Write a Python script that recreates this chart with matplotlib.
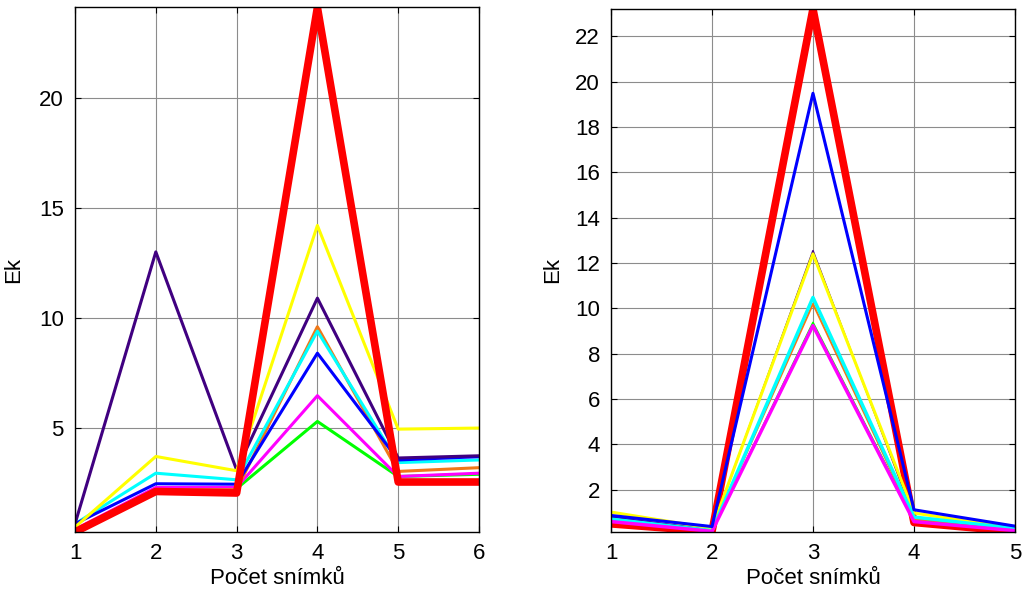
import matplotlib
matplotlib.use("Agg")
import matplotlib.pyplot as plt

plt.rcParams["font.family"] = ["Liberation Sans", "DejaVu Sans"]

# left panel: x = 1..6
x_left = [1, 2, 3, 4, 5, 6]
left_green = [0.35, 2.25, 2.25, 5.3, 2.8, 2.9]
left_magenta = [0.4, 2.3, 2.3, 6.47, 2.8, 2.95]
left_blue = [0.65, 2.47, 2.45, 8.4, 3.55, 3.7]
left_cyan = [0.65, 2.95, 2.65, 9.4, 3.43, 3.55]
left_orange = [0.35, 2.2, 2.2, 9.6, 3.03, 3.2]
left_purple = [0.65, 13.0, 3.1, 10.9, 3.64, 3.74]
left_yellow = [0.5, 3.71, 3.06, 14.2, 4.95, 5.0]
left_red = [0.28, 2.12, 2.05, 24.1, 2.55, 2.55]

# right panel: x = 1..5
x_right = [1, 2, 3, 4, 5]
right_red = [0.5, 0.16, 23.2, 0.56, 0.16]
right_blue = [0.87, 0.38, 19.48, 1.12, 0.4]
right_purple = [0.8, 0.25, 12.54, 0.8, 0.25]
right_yellow = [1.02, 0.3, 12.4, 0.98, 0.3]
right_orange = [0.7, 0.2, 10.2, 0.7, 0.35]
right_cyan = [0.71, 0.2, 10.48, 0.8, 0.3]
right_green = [0.6, 0.18, 9.38, 0.7, 0.2]
right_magenta = [0.6, 0.17, 9.24, 0.6, 0.2]

ORANGE = "#f07818"
PURPLE = "#400080"

fig = plt.figure(figsize=(10.25, 5.98), dpi=100)
ax1 = fig.add_axes([0.0732, 0.1104, 0.3941, 0.8771])
ax2 = fig.add_axes([0.5961, 0.1111, 0.3941, 0.8740])

# left
ax1.plot(x_left, left_green, color="#00ff00", lw=2.2)
ax1.plot(x_left, left_magenta, color="#ff00ff", lw=2.2)
ax1.plot(x_left, left_orange, color=ORANGE, lw=2.2)
ax1.plot(x_left, left_cyan, color="#00ffff", lw=2.2)
ax1.plot(x_left, left_blue, color="#0000ff", lw=2.2)
ax1.plot(x_left, left_purple, color=PURPLE, lw=2.2)
ax1.plot(x_left, left_yellow, color="#ffff00", lw=2.2)
ax1.plot(x_left, left_red, color="#ff0000", lw=5.5)
ax1.set_xlim(1, 6)
ax1.set_ylim(min(left_red), max(left_red))
ax1.set_xticks(x_left)
ax1.set_yticks([5, 10, 15, 20])

# right
ax2.plot(x_right, right_red, color="#ff0000", lw=5.5)
ax2.plot(x_right, right_purple, color=PURPLE, lw=1.2)
ax2.plot(x_right, right_yellow, color="#ffff00", lw=2.2)
ax2.plot(x_right, right_green, color="#00ff00", lw=1.2)
ax2.plot(x_right, right_orange, color=ORANGE, lw=1.5)
ax2.plot(x_right, right_cyan, color="#00ffff", lw=2.5)
ax2.plot(x_right, right_magenta, color="#ff00ff", lw=2.5)
ax2.plot(x_right, right_blue, color="#0000ff", lw=2.2)
ax2.set_xlim(1, 5)
ax2.set_ylim(min(right_red), max(right_red))
ax2.set_xticks(x_right)
ax2.set_yticks(range(2, 23, 2))

for ax in (ax1, ax2):
    ax.grid(True, color="#8c8c8c", lw=0.8, ls="-")
    ax.set_axisbelow(True)
    ax.tick_params(direction="in", top=True, right=True, length=4,
                   labelsize=16, pad=8)
    for s in ax.spines.values():
        s.set_linewidth(1.0)
    ax.set_xlabel("Počet snímků", fontsize=16, labelpad=3)
    ax.set_ylabel("Ek", fontsize=16)

ax1.yaxis.set_label_coords(-0.126, 0.5)
ax2.yaxis.set_label_coords(-0.119, 0.5)

fig.savefig("out.png", dpi=100)
